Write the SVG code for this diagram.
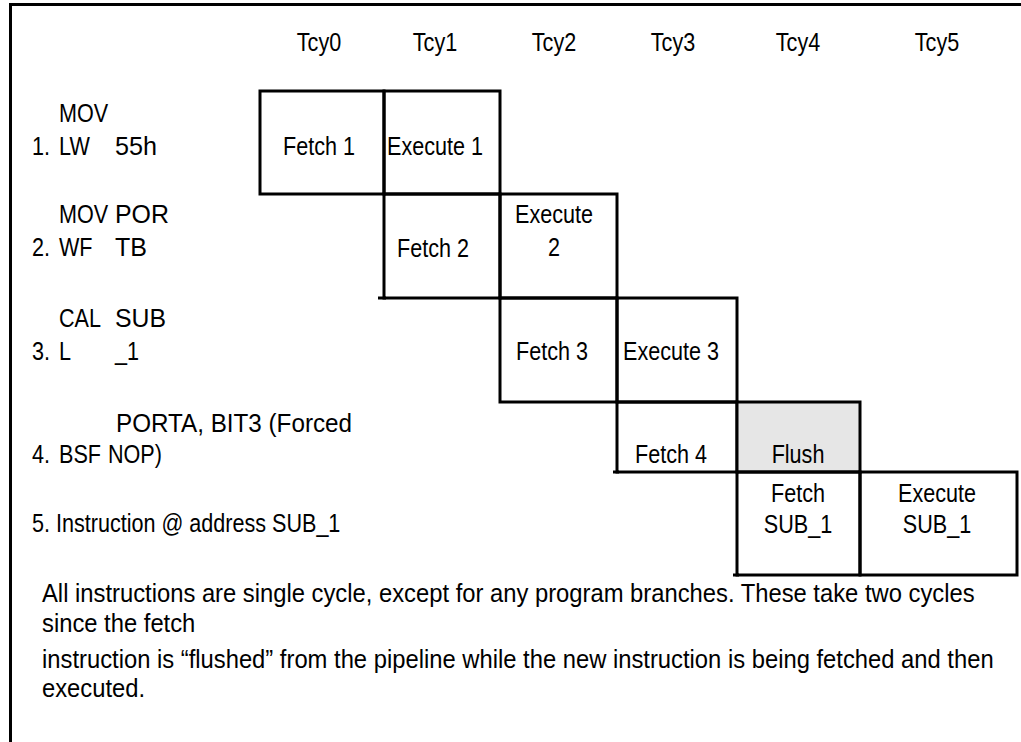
<svg xmlns="http://www.w3.org/2000/svg" width="1021" height="742" viewBox="0 0 1021 742">
<style>
.t{font-family:"Liberation Sans",Arial,sans-serif;font-size:26px;fill:#000}
.p{font-size:26px}
.m{text-anchor:middle}
.cell{fill:none;stroke:#000;stroke-width:3}
.flush{fill:#e6e6e6;stroke:#000;stroke-width:3}
.ln{stroke:#000;stroke-width:3;fill:none}
</style>
<rect x="0" y="0" width="1021" height="742" fill="#fff"/>
<g id="frame">
<line class="ln" x1="10.5" y1="4.5" x2="1021" y2="4.5"/>
<line class="ln" x1="10.5" y1="3" x2="10.5" y2="742"/>
</g>
<g id="header">
<text class="t m" transform="translate(319,51) scale(0.83,1)">Tcy0</text>
<text class="t m" transform="translate(435,51) scale(0.83,1)">Tcy1</text>
<text class="t m" transform="translate(554,51) scale(0.83,1)">Tcy2</text>
<text class="t m" transform="translate(673,51) scale(0.83,1)">Tcy3</text>
<text class="t m" transform="translate(798,51) scale(0.83,1)">Tcy4</text>
<text class="t m" transform="translate(937,51) scale(0.83,1)">Tcy5</text>
</g>
<g id="label1">
<text class="t" transform="translate(59,122) scale(0.83,1)">MOV</text>
<text class="t" transform="translate(32,155) scale(0.83,1)">1.</text>
<text class="t" transform="translate(59,155) scale(0.83,1)">LW</text>
<text class="t" x="115" y="155" textLength="42" lengthAdjust="spacingAndGlyphs">55h</text>
</g>
<g id="label2">
<text class="t" transform="translate(59,223) scale(0.83,1)">MOV</text>
<text class="t" x="115" y="223" textLength="54" lengthAdjust="spacingAndGlyphs">POR</text>
<text class="t" transform="translate(32,256) scale(0.83,1)">2.</text>
<text class="t" transform="translate(59,256) scale(0.83,1)">WF</text>
<text class="t" x="115" y="256" textLength="32" lengthAdjust="spacingAndGlyphs">TB</text>
</g>
<g id="label3">
<text class="t" transform="translate(59,327) scale(0.83,1)">CAL</text>
<text class="t" x="115" y="327" textLength="51" lengthAdjust="spacingAndGlyphs">SUB</text>
<text class="t" transform="translate(32,360) scale(0.83,1)">3.</text>
<text class="t" transform="translate(59,360) scale(0.83,1)">L</text>
<text class="t" transform="translate(115,360) scale(0.83,1)">_1</text>
</g>
<g id="label4">
<text class="t" x="116" y="432" textLength="236" lengthAdjust="spacingAndGlyphs">PORTA, BIT3 (Forced</text>
<text class="t" transform="translate(32,463) scale(0.83,1)">4.</text>
<text class="t" transform="translate(59,463) scale(0.83,1)">BSF</text>
<text class="t" transform="translate(108,463) scale(0.83,1)">NOP)</text>
</g>
<g id="label5">
<text class="t" transform="translate(32,532) scale(0.83,1)">5. Instruction @ address SUB_1</text>
</g>
<g id="fetch1">
<rect class="cell" x="260" y="91" width="124" height="103"/>
<text class="t m" transform="translate(319,155) scale(0.83,1)">Fetch 1</text>
</g>
<g id="execute1">
<rect class="cell" x="384" y="91" width="116" height="103"/>
<text class="t m" transform="translate(435,155) scale(0.83,1)">Execute 1</text>
</g>
<g id="fetch2">
<rect class="cell" x="384" y="194" width="116" height="104"/>
<text class="t m" transform="translate(433,257) scale(0.83,1)">Fetch 2</text>
</g>
<g id="execute2">
<rect class="cell" x="500" y="194" width="117" height="104"/>
<text class="t m" transform="translate(554,223) scale(0.83,1)">Execute</text>
<text class="t m" transform="translate(554,256) scale(0.83,1)">2</text>
</g>
<g id="fetch3">
<rect class="cell" x="500" y="298" width="117" height="104"/>
<text class="t m" transform="translate(552,360) scale(0.83,1)">Fetch 3</text>
</g>
<g id="execute3">
<rect class="cell" x="617" y="298" width="120" height="104"/>
<text class="t m" transform="translate(671,360) scale(0.83,1)">Execute 3</text>
</g>
<g id="fetch4">
<rect class="cell" x="617" y="402" width="120" height="70"/>
<text class="t m" transform="translate(671,463) scale(0.83,1)">Fetch 4</text>
</g>
<g id="flush">
<rect class="flush" x="737" y="402" width="123" height="70"/>
<text class="t m" transform="translate(798,463) scale(0.83,1)">Flush</text>
</g>
<g id="fetchsub1">
<rect class="cell" x="737" y="472" width="123" height="103"/>
<text class="t m" transform="translate(798,502) scale(0.83,1)">Fetch</text>
<text class="t m" transform="translate(798,533) scale(0.83,1)">SUB_1</text>
</g>
<g id="executesub1">
<rect class="cell" x="860" y="472" width="157" height="103"/>
<text class="t m" transform="translate(937,502) scale(0.83,1)">Execute</text>
<text class="t m" transform="translate(937,533) scale(0.83,1)">SUB_1</text>
</g>
<g id="connectors">
<line class="ln" x1="378" y1="298" x2="386" y2="298"/>
<line class="ln" x1="613" y1="472" x2="619" y2="472"/>
<line class="ln" x1="733" y1="575" x2="739" y2="575"/>
</g>
<g id="note">
<text class="t p" transform="translate(42,602) scale(0.915,1)">All instructions are single cycle, except for any program branches. These take two cycles</text>
<text class="t p" transform="translate(42,632) scale(0.915,1)">since the fetch</text>
<text class="t p" transform="translate(42,668) scale(0.915,1)">instruction is “flushed” from the pipeline while the new instruction is being fetched and then</text>
<text class="t p" transform="translate(42,697) scale(0.915,1)">executed.</text>
</g>
</svg>
